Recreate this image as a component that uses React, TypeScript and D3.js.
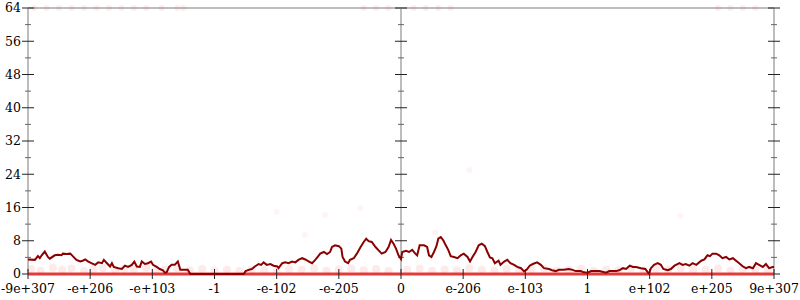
import React from "react";
import * as d3 from "d3";

// x axis: ordered positions of the floating-point range, one unit per tick
const tickPositions = [-6, -5, -4, -3, -2, -1, 0, 1, 2, 3, 4, 5, 6];
const tickLabels = ["-9e+307", "-e+206", "-e+103", "-1", "-e-102", "-e-205", "0", "e-206", "e-103", "1", "e+102", "e+205", "9e+307"];
const yTicks = [0, 8, 16, 24, 32, 40, 48, 56, 64];
const yMinorTicks = [4, 12, 20, 28, 36, 44, 52, 60];
const axisPositions = [-6, 0, 6];

// dark red line
const lineX = [
  -6.0, -5.89, -5.84, -5.81, -5.78, -5.73, -5.68, -5.65, -5.57, -5.52, -5.46, -5.44, -5.38, -5.32, -5.28, -5.22,
  -5.16, -5.12, -5.08, -5.03, -4.98, -4.92, -4.87, -4.81, -4.78, -4.73, -4.68, -4.65, -4.62, -4.55, -4.49, -4.44,
  -4.39, -4.33, -4.29, -4.25, -4.2, -4.17, -4.12, -4.07, -4.02, -3.99, -3.93, -3.88, -3.83, -3.8, -3.77, -3.73,
  -3.69, -3.64, -3.59, -3.55, -3.51, -3.43, -3.39, -2.53, -2.5, -2.45, -2.4, -2.35, -2.29, -2.25, -2.21, -2.16,
  -2.1, -2.05, -1.99, -1.97, -1.91, -1.86, -1.81, -1.75, -1.7, -1.65, -1.59, -1.54, -1.48, -1.43, -1.38, -1.34,
  -1.3, -1.24, -1.19, -1.14, -1.11, -1.06, -1.0, -0.96, -0.94, -0.9, -0.85, -0.82, -0.76, -0.71, -0.65, -0.6,
  -0.56, -0.52, -0.47, -0.41, -0.36, -0.31, -0.25, -0.2, -0.16, -0.12, -0.08, -0.04, 0.0, 0.02, 0.08, 0.13,
  0.18, 0.23, 0.26, 0.3, 0.37, 0.42, 0.45, 0.49, 0.53, 0.57, 0.6, 0.64, 0.68, 0.72, 0.76, 0.8,
  0.85, 0.91, 0.96, 1.01, 1.07, 1.11, 1.15, 1.2, 1.25, 1.3, 1.35, 1.39, 1.43, 1.47, 1.51, 1.57,
  1.6, 1.66, 1.71, 1.76, 1.82, 1.87, 1.93, 1.98, 2.02, 2.07, 2.12, 2.19, 2.25, 2.3, 2.38, 2.43,
  2.49, 2.54, 2.62, 2.7, 2.76, 2.81, 2.89, 2.94, 3.0, 3.06, 3.19, 3.3, 3.35, 3.46, 3.51, 3.57,
  3.62, 3.68, 3.73, 3.78, 3.86, 3.93, 3.97, 3.99, 4.02, 4.07, 4.13, 4.18, 4.22, 4.29, 4.34, 4.4,
  4.48, 4.53, 4.58, 4.64, 4.69, 4.75, 4.83, 4.88, 4.93, 4.97, 5.01, 5.07, 5.12, 5.17, 5.23, 5.28,
  5.34, 5.39, 5.44, 5.5, 5.55, 5.6, 5.66, 5.71, 5.76, 5.82, 5.87, 5.92, 5.98, 6.0,
];
const lineY = [
  3.5, 3.4, 4.3, 3.8, 4.5, 5.4, 4.1, 3.7, 4.5, 4.6, 4.5, 4.9, 4.8, 4.9, 4.3, 3.4,
  3.0, 3.2, 3.5, 3.0, 2.6, 2.2, 2.8, 2.6, 3.4, 2.6, 1.8, 2.6, 1.7, 1.4, 1.2, 2.0,
  1.7, 2.2, 3.0, 1.8, 1.7, 3.0, 2.4, 2.6, 3.0, 2.2, 1.7, 1.2, 0.9, 0.3, 0.4, 1.7,
  2.2, 2.2, 3.0, 1.0, 1.0, 1.0, 0.0, 0.0, 0.7, 1.0, 1.2, 1.8, 2.4, 2.2, 2.8, 2.2,
  2.4, 2.0, 1.8, 1.4, 2.6, 2.8, 2.6, 3.0, 2.8, 3.4, 3.8, 3.5, 3.0, 2.6, 3.4, 4.1,
  4.9, 5.3, 4.8, 5.3, 6.5, 6.9, 6.7, 6.1, 4.1, 3.0, 2.6, 3.4, 3.8, 4.9, 6.5, 7.7,
  8.5, 7.9, 7.7, 6.5, 5.7, 4.9, 5.3, 6.5, 8.2, 7.3, 6.1, 4.5, 3.6, 5.3, 5.6, 5.3,
  5.8, 4.9, 4.5, 6.9, 6.9, 6.5, 4.5, 4.1, 5.3, 6.7, 8.5, 8.9, 8.1, 6.9, 5.8, 4.3,
  4.1, 3.8, 4.5, 4.9, 4.1, 3.0, 4.1, 5.3, 6.9, 7.3, 6.7, 5.3, 4.0, 3.8, 2.6, 3.2,
  2.2, 3.0, 3.4, 2.6, 2.2, 1.7, 1.4, 0.6, 1.0, 2.0, 2.4, 2.8, 2.2, 1.4, 1.2, 0.9,
  0.7, 1.0, 1.0, 1.2, 1.0, 0.7, 0.7, 0.4, 0.3, 0.7, 0.7, 0.3, 0.7, 0.7, 0.9, 1.4,
  1.2, 2.0, 1.7, 1.7, 1.4, 1.2, 0.4, 0.1, 1.4, 2.2, 2.6, 2.2, 1.2, 0.9, 1.2, 2.0,
  2.6, 2.2, 2.4, 2.0, 2.6, 2.2, 3.2, 3.5, 4.5, 4.3, 4.9, 4.9, 4.5, 3.8, 4.1, 3.5,
  3.8, 3.2, 2.6, 1.8, 1.4, 1.7, 1.4, 2.6, 2.2, 1.7, 2.4, 1.4, 1.7, 1.7,
];

// faint red points near zero
const hazeX = [
  -5.95, -5.8, -5.6, -5.45, -5.3, -5.1, -4.95, -4.8, -4.6, -4.45, -4.3, -4.1, -3.95, -3.8, -3.6, -3.4,
  -3.2, -3.0, -2.8, -2.6, -2.4, -2.2, -2.0, -1.8, -1.6, -1.4, -1.2, -1.0, -0.8, -0.6, -0.4, -0.2,
  0.1, 0.3, 0.5, 0.7, 0.9, 1.1, 1.3, 1.5, 1.7, 1.9, 2.1, 2.3, 2.5, 2.7, 2.9, 3.1,
  3.3, 3.5, 3.7, 3.9, 4.1, 4.3, 4.5, 4.7, 4.9, 5.1, 5.3, 5.5, 5.7, 5.9,
];
const hazeY = [
  1.2, 0.8, 1.5, 1.0, 1.3, 0.7, 1.1, 1.4, 0.9, 1.2, 1.0, 1.5, 0.8, 1.1, 1.3, 0.9,
  1.2, 0.8, 1.0, 0.7, 1.1, 0.9, 0.6, 1.2, 1.0, 1.4, 0.8, 1.1, 1.3, 0.9, 1.2, 0.7,
  1.0, 1.3, 0.8, 1.1, 0.9, 1.4, 1.0, 0.8, 1.2, 0.9, 1.1, 1.3, 0.8, 1.0, 1.2, 0.7,
  1.1, 0.9, 1.3, 0.8, 1.2, 1.0, 1.4, 0.9, 1.1, 1.3, 0.8, 1.2, 1.0, 1.1,
];
// faint red points along the top
const topX = [
  -5.9, -5.7, -5.5, -5.3, -5.1, -4.9, -4.7, -4.5, -4.3, -4.1, -3.85, -3.6, -3.5, -0.6, -0.4, -0.2,
  0.2, 0.4, 0.6, 0.8, 5.1, 5.3, 5.5, 5.7,
];
// a few stray faint points
const strayX = [-1.22, -0.65, -1.55, -2.0, 0.55, 1.1, 4.5];
const strayY = [14.2, 15.8, 9.4, 15.0, 10.0, 25.0, 14.0];

const W = 800;
const H = 300;

export default function App() {
  const x = d3.scaleLinear().domain([-6, 6]).range([28, 774]);
  const y = d3.scaleLinear().domain([0, 64]).range([274, 8]);
  const pts: [number, number][] = lineX.map((v, i) => [v, lineY[i]]);
  const line = d3
    .line<[number, number]>()
    .x((d) => x(d[0]))
    .y((d) => y(d[1]));
  const font = "'DejaVu Serif', serif";
  const grey = "#bdbdbd";

  return (
    <svg
      width={W}
      height={H}
      style={{ position: "absolute", left: 0, top: 0, background: "#fff" }}
      fontFamily={font}
      fontSize={12.5}
    >
      {/* top line */}
      <line x1={x(-6)} x2={x(6)} y1={y(64)} y2={y(64)} stroke={grey} strokeWidth={2} />
      {/* vertical axes */}
      {axisPositions.map((p) => (
        <g key={p}>
          <line x1={x(p)} x2={x(p)} y1={y(64)} y2={y(0)} stroke={grey} strokeWidth={2} />
          {yTicks.map((t) => (
            <line key={t} x1={x(p) - 6} x2={x(p) + 6} y1={y(t)} y2={y(t)} stroke="#222" strokeWidth={1} />
          ))}
          {yMinorTicks.map((t) => (
            <line key={t} x1={x(p) - 3} x2={x(p) + 3} y1={y(t)} y2={y(t)} stroke="#666" strokeWidth={1} />
          ))}
        </g>
      ))}
      {/* faint points */}
      {topX.map((v, i) => (
        <circle key={"t" + i} cx={x(v)} cy={y(64)} r={3} fill="#e83030" opacity={0.08} />
      ))}
      {hazeX.map((v, i) => (
        <circle key={"h" + i} cx={x(v)} cy={y(hazeY[i])} r={4} fill="#e83030" opacity={0.1} />
      ))}
      {strayX.map((v, i) => (
        <circle key={"s" + i} cx={x(v)} cy={y(strayY[i])} r={3} fill="#e83030" opacity={0.05} />
      ))}
      {/* zero red line */}
      <line x1={x(-6)} x2={x(6)} y1={y(0)} y2={y(0)} stroke="#e53a3a" strokeWidth={3} />
      {/* x ticks */}
      {tickPositions.map((p, i) => (
        <g key={p}>
          <line x1={x(p)} x2={x(p)} y1={y(0) - 5} y2={y(0) + 5} stroke="#222" strokeWidth={1} />
          <text x={x(p)} y={293} textAnchor="middle" fill="#000">
            {tickLabels[i]}
          </text>
        </g>
      ))}
      {/* y labels */}
      {yTicks.map((t) => (
        <text key={t} x={21} y={y(t)} dy="0.35em" textAnchor="end" fill="#000">
          {t}
        </text>
      ))}
      {/* data line */}
      <path d={line(pts) || ""} fill="none" stroke="#8b0000" strokeWidth={2} strokeLinejoin="miter" />
    </svg>
  );
}
